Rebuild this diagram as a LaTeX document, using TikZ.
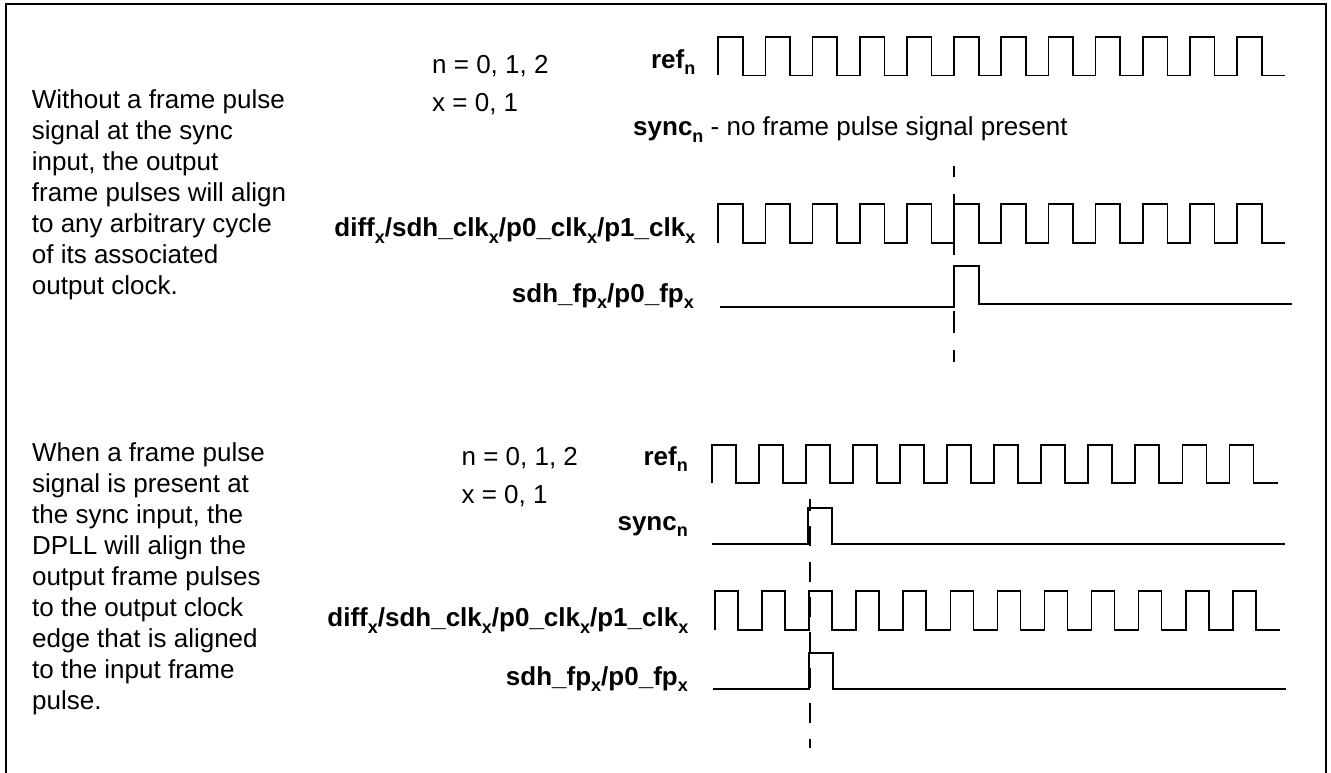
\documentclass[tikz,border=0pt]{standalone}
\usepackage{fontspec}
\setmainfont{Liberation Sans}
\newcommand{\mysub}[1]{\raisebox{-6.5pt}{\fontsize{18}{18}\selectfont #1}}
\begin{document}
\begin{tikzpicture}[x=1pt,y=-1pt,
  wave/.style={line width=1.7pt, line join=miter},
  dashA/.style={line width=1.7pt, dash pattern=on 22pt off 17pt, dash phase=11pt},
  dashB/.style={line width=1.7pt, dash pattern=on 20pt off 15.4pt, dash phase=8.3pt},
  frame/.style={line width=2pt},
  txt/.style={inner sep=0pt, font=\fontsize{26}{31}\selectfont},
  lbl/.style={inner sep=0pt, font=\fontsize{26}{31}\selectfont\bfseries, anchor=base east}]
\useasboundingbox (0,0) rectangle (1331,773);
% frame
\draw[frame] (6,780) -- (6,4) -- (1326,4) -- (1326,780);

% ---------- top panel ----------
\node[txt, anchor=base west] (para1) at (31.7,108.3) {\begin{tabular}[t]{@{}l@{}}Without a frame pulse\\ signal at the sync\\ input, the output\\ frame pulses will align\\ to any arbitrary cycle\\ of its associated\\ output clock.\end{tabular}};
\node[txt, anchor=base west] (nTop) at (432,73.5) {n = 0, 1, 2};
\node[txt, anchor=base west] (xTop) at (432,111.5) {x = 0, 1};
\node[lbl] (refTop) at (695.5,68.5) {ref\mysub{n}};
\node[txt, anchor=base west] (syncTop) at (633,136) {\textbf{sync\mysub{n}} - no frame pulse signal present};
\node[lbl] (diffTop) at (695.5,236.8) {diff\mysub{x}/sdh\_clk\mysub{x}/p0\_clk\mysub{x}/p1\_clk\mysub{x}};
\node[lbl] (fpTop) at (694,302) {sdh\_fp\mysub{x}/p0\_fp\mysub{x}};

% ref (top)
\draw[wave] (718.3,75.5) \foreach \k in {0,...,11} { -- ({718.3+47.15*\k},75.5) -- ({718.3+47.15*\k},37) -- ({743+47.15*\k},37) -- ({743+47.15*\k},75.5) } -- (1285,75.5);
% diff (top)
\draw[wave] (718.3,242.7) \foreach \k in {0,...,11} { -- ({718.3+47.15*\k},242.7) -- ({718.3+47.15*\k},204.3) -- ({743+47.15*\k},204.3) -- ({743+47.15*\k},242.7) } -- (1285,242.7);
% frame pulse (top)
\draw[wave] (720,306.7) -- (954.1,306.7) -- (954.1,265.7) -- (979,265.7) -- (979,304.3) -- (1291.6,304.3);
% alignment marker (top)
\coordinate (dTopA) at (954.1,166);
\coordinate (dTopB) at (954.1,361.7);
\draw[dashA] (dTopA) -- (dTopB);

% ---------- bottom panel ----------
\node[txt, anchor=base west] (para2) at (32,461.7) {\begin{tabular}[t]{@{}l@{}}When a frame pulse\\ signal is present at\\ the sync input, the\\ DPLL will align the\\ output frame pulses\\ to the output clock\\ edge that is aligned\\ to the input frame\\ pulse.\end{tabular}};
\node[txt, anchor=base west] (nBot) at (461.4,465) {n = 0, 1, 2};
\node[txt, anchor=base west] (xBot) at (461.4,503.3) {x = 0, 1};
\node[lbl] (refBot) at (688,465) {ref\mysub{n}};
\node[lbl] (syncBot) at (688,530) {sync\mysub{n}};
\node[lbl] (diffBot) at (688.5,626.7) {diff\mysub{x}/sdh\_clk\mysub{x}/p0\_clk\mysub{x}/p1\_clk\mysub{x}};
\node[lbl] (fpBot) at (688,685) {sdh\_fp\mysub{x}/p0\_fp\mysub{x}};

% ref (bottom)
\draw[wave] (711.7,483.3) \foreach \k in {0,...,11} { -- ({711.7+47.07*\k},483.3) -- ({711.7+47.07*\k},445) -- ({735.7+47.07*\k},445) -- ({735.7+47.07*\k},483.3) } -- (1277.8,483.3);
% sync (bottom)
\draw[wave] (712.3,544) -- (807.7,544) -- (807.7,507.7) -- (832.3,507.7) -- (832.3,544) -- (1284.7,544);
% diff (bottom)
\draw[wave] (715,630) \foreach \k in {0,...,11} { -- ({715+47.07*\k},630) -- ({715+47.07*\k},591) -- ({738+47.07*\k},591) -- ({738+47.07*\k},630) } -- (1280.3,630);
% frame pulse (bottom)
\draw[wave] (713.3,688.7) -- (809,688.7) -- (809,652.7) -- (833.3,652.7) -- (833.3,688.7) -- (1286,688.7);
% alignment marker (bottom)
\coordinate (dBotA) at (810,499);
\coordinate (dBotB) at (810,748.3);
\draw[dashB] (dBotA) -- (dBotB);
\end{tikzpicture}
\end{document}
